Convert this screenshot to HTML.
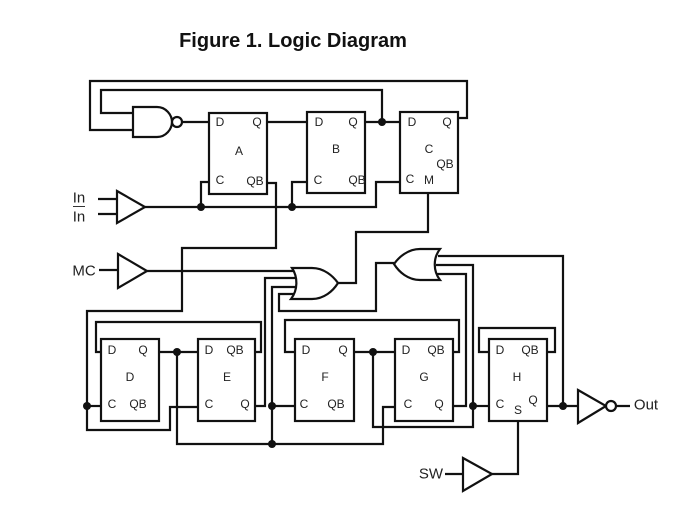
<!DOCTYPE html>
<html>
<head>
<meta charset="utf-8">
<style>
html,body{margin:0;padding:0;background:#fff;}
svg{display:block;}
text{font-family:"Liberation Sans",sans-serif;fill:#222;text-anchor:middle;dominant-baseline:central;font-size:12px;}
.w{fill:none;stroke:#111;stroke-width:2.2;stroke-linejoin:miter;}
.g{fill:#fff;stroke:#111;stroke-width:2.2;stroke-linejoin:miter;}
.l{font-size:15px;}
</style>
</head>
<body>
<svg width="688" height="518" viewBox="0 0 688 518" xmlns="http://www.w3.org/2000/svg">
<rect width="688" height="518" fill="#fff"/>
<text x="293" y="41" style="font-size:20px;font-weight:bold;fill:#111">Figure 1. Logic Diagram</text>

<!-- top wires -->
<path class="w" d="M133 130H90V81H467V118H458"/>
<path class="w" d="M133 113H101V90H382V122"/>
<path class="w" d="M182 122H209M267 122H307M365 122H400"/>
<path class="w" d="M98 199H117M98 214H117"/>
<path class="w" d="M145 207H376V182H400"/>
<path class="w" d="M209 182H201V207M307 182H292V207"/>
<path class="w" d="M267 183H276V248H182V311H87V430H170V407H198"/>
<path class="w" d="M87 406H101"/>
<path class="w" d="M428 193V232H356V283H338"/>
<!-- MC -->
<path class="w" d="M99 270H118M147 271H295"/>
<!-- lower wires -->
<path class="w" d="M101 352H96V322H261V352H255"/>
<path class="w" d="M159 352H198M177 352V444H383V407H395"/>
<path class="w" d="M255 406H265V278H296"/>
<path class="w" d="M272 444V287H296M272 406H295"/>
<path class="w" d="M295 294H279V311H376V263H394"/>
<path class="w" d="M295 352H285V320H459V352H453"/>
<path class="w" d="M354 352H395M373 352V427H473V265H436"/>
<path class="w" d="M453 406H466V274H436"/>
<path class="w" d="M438 256H563V406"/>
<path class="w" d="M473 406H489"/>
<path class="w" d="M489 352H479V328H555V352H547"/>
<path class="w" d="M547 406H578M616 406H630"/>
<path class="w" d="M518 421V474H492M445 474H463"/>

<!-- boxes -->
<rect class="g" x="209" y="113" width="58" height="81"/>
<rect class="g" x="307" y="112" width="58" height="81"/>
<rect class="g" x="400" y="112" width="58" height="81"/>
<rect class="g" x="101" y="339" width="58" height="82"/>
<rect class="g" x="198" y="339" width="57" height="82"/>
<rect class="g" x="295" y="339" width="59" height="82"/>
<rect class="g" x="395" y="339" width="58" height="82"/>
<rect class="g" x="489" y="339" width="58" height="82"/>

<!-- NAND -->
<path class="g" d="M133 107H157C166 107 172 115 172 122C172 129 166 137 157 137H133Z"/>
<circle class="g" cx="177" cy="122" r="5"/>
<!-- buffers -->
<path class="g" d="M117 191L145 207L117 223Z"/>
<path class="g" d="M118 254L147 271L118 288Z"/>
<path class="g" d="M463 458L492 474L463 491Z"/>
<path class="g" d="M578 390L606 406L578 423Z"/>
<circle class="g" cx="611" cy="406" r="5"/>
<!-- OR gates -->
<path class="g" d="M292 268H312C324 268 333 276 338 283C333 291 324 299 312 299H291C298 290 298 277 292 268Z"/>
<path class="g" d="M440 249H420C408 249 399 257 394 264C399 272 408 280 420 280H440C433 271 433 258 440 249Z"/>

<!-- junctions -->
<g fill="#111">
<circle cx="201" cy="207" r="4"/><circle cx="292" cy="207" r="4"/><circle cx="382" cy="122" r="4"/>
<circle cx="87" cy="406" r="4"/><circle cx="177" cy="352" r="4"/><circle cx="272" cy="406" r="4"/>
<circle cx="272" cy="444" r="4"/><circle cx="373" cy="352" r="4"/><circle cx="473" cy="406" r="4"/>
<circle cx="563" cy="406" r="4"/>
</g>

<!-- box labels -->
<text x="220" y="122">D</text><text x="257" y="122">Q</text><text x="239" y="151">A</text><text x="220" y="180">C</text><text x="255" y="181">QB</text>
<text x="319" y="122">D</text><text x="353" y="122">Q</text><text x="336" y="149">B</text><text x="318" y="180">C</text><text x="357" y="180">QB</text>
<text x="412" y="122">D</text><text x="447" y="122">Q</text><text x="429" y="149">C</text><text x="445" y="164">QB</text><text x="410" y="179">C</text><text x="429" y="180">M</text>
<text x="112" y="350">D</text><text x="143" y="350">Q</text><text x="130" y="377">D</text><text x="112" y="404">C</text><text x="138" y="404">QB</text>
<text x="209" y="350">D</text><text x="235" y="350">QB</text><text x="227" y="377">E</text><text x="209" y="404">C</text><text x="245" y="404">Q</text>
<text x="306" y="350">D</text><text x="343" y="350">Q</text><text x="325" y="377">F</text><text x="304" y="404">C</text><text x="336" y="404">QB</text>
<text x="406" y="350">D</text><text x="436" y="350">QB</text><text x="424" y="377">G</text><text x="408" y="404">C</text><text x="439" y="404">Q</text>
<text x="500" y="350">D</text><text x="530" y="350">QB</text><text x="517" y="377">H</text><text x="500" y="404">C</text><text x="518" y="410">S</text><text x="533" y="400">Q</text>

<!-- signal labels -->
<text class="l" x="79" y="198">In</text>
<line x1="73" y1="206.500" x2="85" y2="206.500" stroke="#333" stroke-width="1"/>
<text class="l" x="79" y="217">In</text>
<text class="l" x="84" y="271">MC</text>
<text class="l" x="431" y="474">SW</text>
<text class="l" x="646" y="405">Out</text>
</svg>
</body>
</html>
